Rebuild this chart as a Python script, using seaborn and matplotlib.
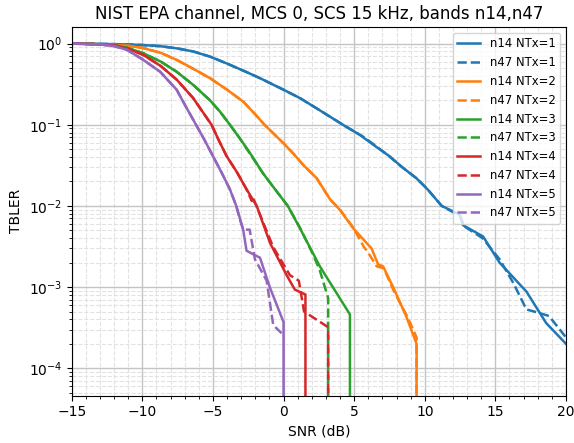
import numpy as np
import pandas as pd
import seaborn as sns
import matplotlib
matplotlib.use('Agg')
import matplotlib.pyplot as plt
from matplotlib.ticker import MultipleLocator

#----------------------------- data -----------------------------#
snr_n14_1 = [-15, -13.5, -12, -11, -10, -8.74, -7.5, -6.4, -5.2, -4.03, -2.8, -1.67, 0, 1.16, 2.2, 3.28, 4.2, 5.4, 6.4, 7.5, 8.4, 9.4, 10.2, 11.2, 12.48, 12.7, 14.13, 15.3, 17.2, 18.6, 20]
tbler_n14_1 = [1.0, 0.995, 0.985, 0.975, 0.96, 0.93, 0.87, 0.80, 0.69, 0.57, 0.46, 0.375, 0.27, 0.213, 0.165, 0.126, 0.10, 0.075, 0.056, 0.041, 0.030, 0.022, 0.016, 0.010, 0.0078, 0.0058, 0.0042, 0.0020, 0.00088, 0.00036, 0.00020]
snr_n47_1 = [-15, -13.5, -12, -11, -10, -8.74, -7.5, -6.4, -5.2, -4.03, -2.8, -1.67, 0, 1.16, 2.2, 3.28, 4.2, 5.6, 6.4, 7.4, 8.4, 9.4, 10.2, 11.2, 12.5, 12.8, 14.1, 15.3, 16.3, 17.2, 18.1, 18.8, 20]
tbler_n47_1 = [1.0, 0.995, 0.985, 0.975, 0.96, 0.93, 0.87, 0.80, 0.69, 0.57, 0.46, 0.375, 0.27, 0.213, 0.165, 0.126, 0.10, 0.072, 0.057, 0.042, 0.030, 0.022, 0.016, 0.010, 0.0075, 0.0056, 0.0040, 0.0022, 0.0011, 0.00053, 0.00048, 0.00044, 0.00024]

snr_n14_2 = [-15, -13.5, -12.3, -11, -9.93, -8.7, -7.57, -6.4, -5.21, -4, -2.86, -2.1, -1.35, 0, 0.7, 1.39, 2.34, 3.3, 4.0, 4.93, 6.23, 6.7, 7.05, 7.76, 8.7, 9.42, 9.42]
tbler_n14_2 = [1.0, 0.99, 0.97, 0.94, 0.88, 0.77, 0.63, 0.49, 0.375, 0.27, 0.193, 0.14, 0.10, 0.059, 0.044, 0.032, 0.022, 0.012, 0.0089, 0.0053, 0.0030, 0.0019, 0.0018, 0.0010, 0.00043, 0.00020, 0]
snr_n47_2 = [-15, -13.5, -12.3, -11, -9.93, -8.7, -7.57, -6.4, -5.21, -4, -2.86, -2.1, -1.35, 0, 0.7, 1.39, 2.34, 3.3, 4.0, 4.9, 5.7, 5.9, 6.6, 7.1, 7.8, 8.8, 9.42, 9.42]
tbler_n47_2 = [1.0, 0.99, 0.97, 0.94, 0.88, 0.77, 0.63, 0.49, 0.375, 0.27, 0.193, 0.14, 0.10, 0.059, 0.044, 0.032, 0.022, 0.012, 0.0090, 0.0055, 0.0031, 0.0028, 0.0018, 0.0017, 0.0009, 0.00042, 0.00024, 0]

snr_n14_3 = [-15, -13.5, -12, -11, -9.93, -8.7, -7.57, -6.4, -5.21, -4.5, -3.8, -3.1, -2.38, -1.44, -0.6, 0.3, 1.16, 2.57, 4.7, 4.7]
tbler_n14_3 = [1.0, 0.99, 0.96, 0.88, 0.76, 0.60, 0.45, 0.31, 0.20, 0.145, 0.10, 0.068, 0.045, 0.025, 0.016, 0.010, 0.0053, 0.0018, 0.00046, 0]
snr_n47_3 = [-15, -13.5, -12, -11, -9.93, -8.7, -7.57, -6.4, -5.21, -4.5, -3.8, -3.1, -2.38, -1.44, -0.6, 0.3, 1.16, 2.1, 2.57, 3.16, 3.16]
tbler_n47_3 = [1.0, 0.99, 0.96, 0.88, 0.76, 0.60, 0.45, 0.31, 0.20, 0.145, 0.10, 0.068, 0.044, 0.025, 0.016, 0.010, 0.0054, 0.0025, 0.0016, 0.00073, 0]

snr_n14_4 = [-15, -13.5, -12, -11, -9.93, -8.7, -7.57, -6.4, -5.8, -5.1, -4.6, -4.03, -3.3, -2.62, -1.9, -0.96, 0.22, 0.8, 1.55, 1.55]
tbler_n14_4 = [1.0, 0.985, 0.95, 0.86, 0.725, 0.53, 0.36, 0.213, 0.15, 0.10, 0.065, 0.041, 0.026, 0.016, 0.010, 0.0035, 0.0014, 0.00093, 0.00081, 0]
snr_n47_4 = [-15, -13.5, -12, -11, -9.93, -8.7, -7.57, -6.4, -5.8, -5.1, -4.6, -4.03, -3.3, -2.62, -2.25, -2.2, -1.9, -0.73, 0.45, 1.08, 1.45, 3.16, 3.16]
tbler_n47_4 = [1.0, 0.985, 0.95, 0.86, 0.725, 0.53, 0.36, 0.213, 0.15, 0.10, 0.065, 0.041, 0.026, 0.016, 0.0115, 0.013, 0.0098, 0.0031, 0.0014, 0.0012, 0.00050, 0.00032, 0]

snr_n14_5 = [-15, -13, -12, -11.1, -9.93, -8.74, -7.57, -6.9, -6.2, -5.6, -5.0, -4.4, -3.8, -3.35, -2.86, -2.62, -1.67, -0.96, 0, 0]
tbler_n14_5 = [1.0, 0.98, 0.93, 0.84, 0.63, 0.45, 0.27, 0.165, 0.10, 0.065, 0.041, 0.026, 0.016, 0.010, 0.0051, 0.0028, 0.0023, 0.00098, 0.00037, 0]
snr_n47_5 = [-15, -13, -12, -11.1, -9.93, -8.74, -7.57, -6.9, -6.2, -5.6, -5.0, -4.4, -3.8, -3.35, -3.09, -2.86, -2.4, -2.03, -1.2, -0.73, -0.14]
tbler_n47_5 = [1.0, 0.98, 0.93, 0.84, 0.63, 0.45, 0.27, 0.165, 0.10, 0.065, 0.041, 0.026, 0.016, 0.010, 0.0068, 0.0051, 0.0051, 0.0022, 0.0012, 0.00034, 0.00027]

series = [
    ('n14 NTx=1', snr_n14_1, tbler_n14_1, 0, '-'),
    ('n47 NTx=1', snr_n47_1, tbler_n47_1, 0, '--'),
    ('n14 NTx=2', snr_n14_2, tbler_n14_2, 1, '-'),
    ('n47 NTx=2', snr_n47_2, tbler_n47_2, 1, '--'),
    ('n14 NTx=3', snr_n14_3, tbler_n14_3, 2, '-'),
    ('n47 NTx=3', snr_n47_3, tbler_n47_3, 2, '--'),
    ('n14 NTx=4', snr_n14_4, tbler_n14_4, 3, '-'),
    ('n47 NTx=4', snr_n47_4, tbler_n47_4, 3, '--'),
    ('n14 NTx=5', snr_n14_5, tbler_n14_5, 4, '-'),
    ('n47 NTx=5', snr_n47_5, tbler_n47_5, 4, '--'),
]

#----------------------------- plot -----------------------------#
colors = sns.color_palette('tab10')
fig = plt.figure(figsize=(5.74, 4.43), dpi=100)
ax = fig.add_axes([0.125, 0.107, 0.861, 0.832])
ax.set_yscale('log', nonpositive='clip')

for label, x, y, ci, ls in series:
    df = pd.DataFrame({'snr': x, 'tbler': y})
    sns.lineplot(data=df, x='snr', y='tbler', ax=ax, color=colors[ci], linestyle=ls,
                 linewidth=1.8, label=label, estimator=None, sort=False)

ax.set_xlim(-15, 20)
ax.set_ylim(4.6e-5, 1.6)
ax.xaxis.set_minor_locator(MultipleLocator(1))
ax.grid(which='major', color='#c4c4c4', linestyle='-', linewidth=1.0)
ax.grid(which='minor', color='#e2e2e2', linestyle='--', linewidth=0.8)
ax.set_axisbelow(True)

ax.set_xlabel('SNR (dB)')
ax.set_ylabel('TBLER')
ax.set_title('NIST EPA channel, MCS 0, SCS 15 kHz, bands n14,n47', fontsize=12)
ax.legend(loc='upper right', fontsize='small')

fig.savefig('out.png', dpi=100)
